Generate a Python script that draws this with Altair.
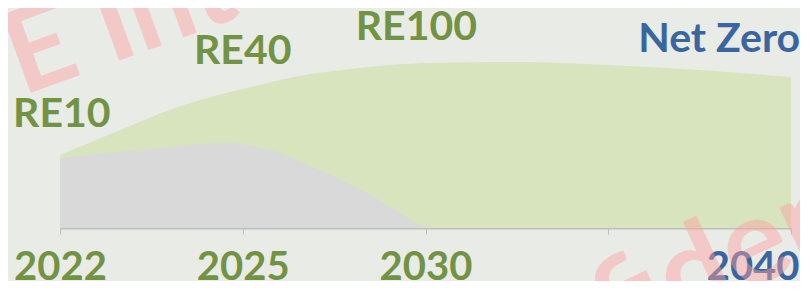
import altair as alt
import pandas as pd

# ---- data (x in evenly spaced tick units: 0=2022, 1=2025, 2=2030, 3=2035, 4=2040) ----
green_t = [0, 0.33, 0.66, 1.0, 1.31, 1.64, 2.0, 2.5, 3.0, 3.5, 4.0]
green_v = [73, 98, 122, 139, 152, 160, 165, 166, 163, 158, 151]

gray_t = [0, 0.5, 0.9, 1.15, 1.42, 1.7, 1.92, 2.0]
gray_v = [70, 79, 85, 78, 58, 33, 8, 0]

tick_t = [0, 1, 2, 3, 4]
tick_labels = ["2022", "2025", "2030", "", "2040"]

ann_text = ["RE10", "RE40", "RE100"]
ann_t = [0.01, 1.0, 1.95]
ann_v = [101, 164, 188]

nz_text = ["Net Zero"]
nz_t = [4.05]
nz_v = [176]

wm_text = ["E Internal", "Confidential"]

OLIVE = "#729343"
BLUE = "#3a66a0"
BG = "#e9ebe6"

green_df = pd.DataFrame({"t": green_t, "v": green_v})
gray_df = pd.DataFrame({"t": gray_t, "v": gray_v})
ann_df = pd.DataFrame({"t": ann_t, "v": ann_v, "label": ann_text})
nz_df = pd.DataFrame({"t": nz_t, "v": nz_v, "label": nz_text})

xscale = alt.Scale(domain=[0, 4], nice=False, zero=False)
yscale = alt.Scale(domain=[0, 220], nice=False)

label_expr = "[" + ",".join("'%s'" % s for s in tick_labels) + "][datum.value]"

x_axis = alt.Axis(
    values=tick_t,
    labelExpr=label_expr,
    title=None,
    grid=False,
    domainColor="#bfbfbf",
    domainWidth=2,
    tickColor="#bfbfbf",
    tickSize=6,
    tickWidth=1,
    labelFont="Lato",
    labelFontWeight="bold",
    labelFontSize=40,
    labelFlush=False,
    labelOverlap=False,
    labelPadding=13,
    labelColor={"condition": {"test": "datum.value == 4", "value": BLUE}, "value": OLIVE},
    labelAlign={"condition": {"test": "datum.value == 4", "value": "right"}, "value": "center"},
    labelOffset={"condition": {"test": "datum.value == 4", "value": 8}, "value": 0},
)

green = alt.Chart(green_df).mark_area(color="#d8e4bd", interpolate="monotone").encode(
    x=alt.X("t:Q", scale=xscale, axis=x_axis),
    y=alt.Y("v:Q", scale=yscale, axis=None),
)

gray = alt.Chart(gray_df).mark_area(color="#d9d9d9", interpolate="monotone").encode(
    x=alt.X("t:Q", scale=xscale),
    y=alt.Y("v:Q", scale=yscale),
)

ann = alt.Chart(ann_df).mark_text(
    font="Lato", fontWeight="bold", fontSize=41, color=OLIVE, align="center", baseline="alphabetic"
).encode(x=alt.X("t:Q", scale=xscale), y=alt.Y("v:Q", scale=yscale), text="label:N")

nz = alt.Chart(nz_df).mark_text(
    font="Lato", fontWeight="bold", fontSize=41, color=BLUE, align="right", baseline="alphabetic"
).encode(x=alt.X("t:Q", scale=xscale), y=alt.Y("v:Q", scale=yscale), text="label:N")

wm1 = alt.Chart(pd.DataFrame({"label": [wm_text[0]]})).mark_text(
    font="Lato", fontWeight="bold", fontSize=115, color="#ffa0a0", opacity=0.45,
    align="left", baseline="alphabetic", angle=340
).encode(x=alt.value(-38), y=alt.value(88), text="label:N")

wm2 = alt.Chart(pd.DataFrame({"label": [wm_text[1]]})).mark_text(
    font="Lato", fontWeight="bold", fontSize=120, color="#ffa0a0", opacity=0.45,
    align="left", baseline="alphabetic", angle=335
).encode(x=alt.value(360), y=alt.value(435), text="label:N")

chart = alt.layer(green, gray, ann, nz, wm1, wm2).properties(
    width=731,
    height=220,
    autosize=alt.AutoSizeParams(type="none"),
    padding={"left": 52, "top": 0, "right": 9, "bottom": 53},
    background=BG,
).configure_view(stroke=None)

chart.save("out.html", embed_options={"renderer": "svg", "actions": False})
